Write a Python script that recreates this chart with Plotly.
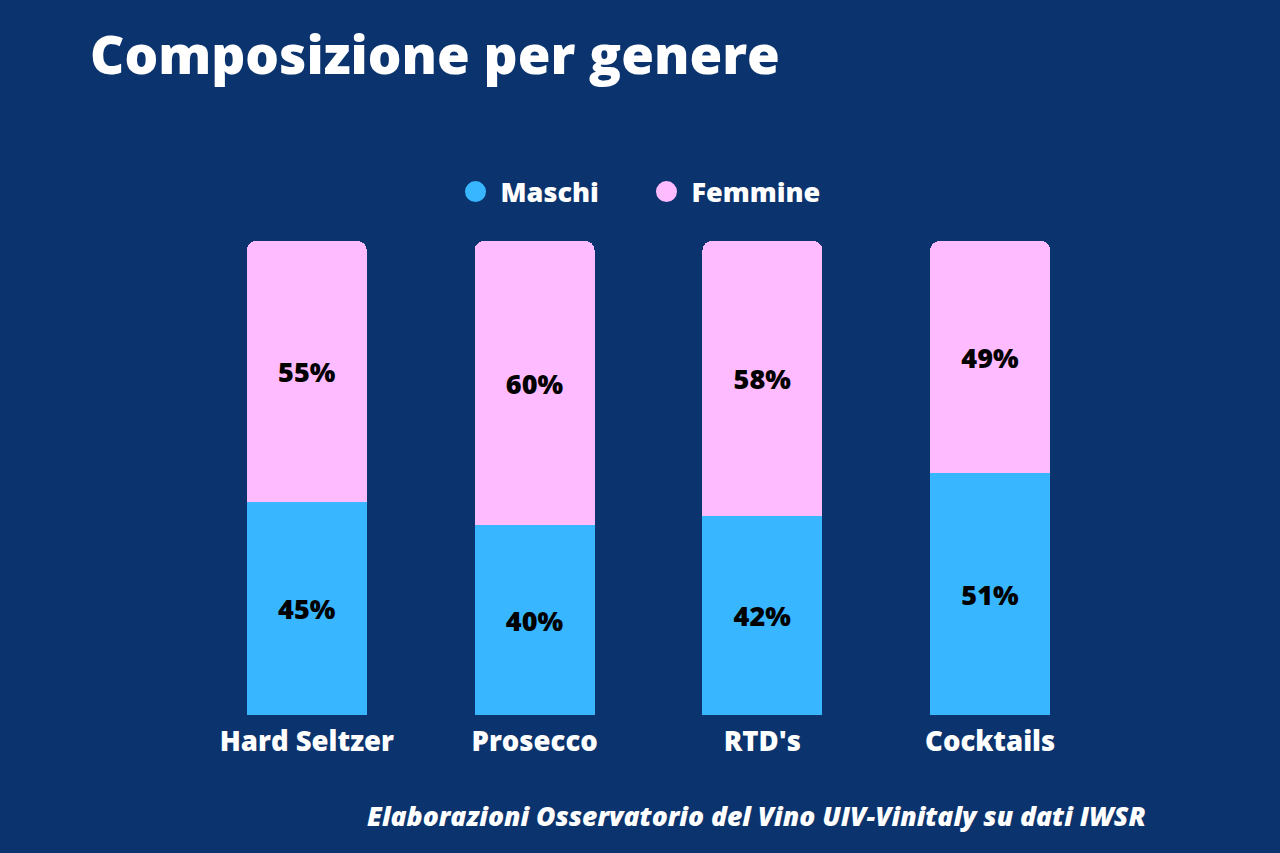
import plotly.graph_objects as go

categories = ["Hard Seltzer", "Prosecco", "RTD's", "Cocktails"]
maschi = [45, 40, 42, 51]
femmine = [55, 60, 58, 49]

BG = "#0B346E"
BLUE = "#38B6FF"
PINK = "#FFBBFF"
FONT = "Open Sans"
W = 800

L, R, T, B = 193, 176, 241, 138
PW, PH = 1280 - L - R, 853 - T - B

fig = go.Figure()
for vals, nm, col in [(maschi, "Maschi", BLUE), (femmine, "Femmine", PINK)]:
    fig.add_trace(go.Bar(
        x=categories, y=vals, name=nm, marker=dict(color=col, line=dict(width=0)),
        texttemplate="%{y}%", textposition="inside", insidetextanchor="middle", textangle=0,
        textfont=dict(family=FONT, size=27, color="black", weight=W), showlegend=False,
        hoverinfo="skip"))
# legend entries with circular markers
for nm, col in [("Maschi", BLUE), ("Femmine", PINK)]:
    fig.add_trace(go.Scatter(x=[None], y=[None], mode="markers", name=nm,
                             marker=dict(symbol="circle", size=26, color=col,
                                         line=dict(width=5, color=col))))

fig.update_layout(
    width=1280, height=853, autosize=False,
    paper_bgcolor=BG, plot_bgcolor=BG,
    barmode="stack", bargap=0.474, barcornerradius=9,
    margin=dict(l=L, r=R, t=T, b=B),
    title=dict(text="Composizione per genere", x=90/1280, xanchor="left", xref="container",
               y=1-55/853, yanchor="middle", yref="container",
               font=dict(family=FONT, size=53, color="white", weight=W)),
    legend=dict(orientation="h", x=0.5 - 7/PW, xanchor="center", xref="paper",
                y=1-192/853, yanchor="middle", yref="container",
                font=dict(family=FONT, size=27, color="white", weight=W),
                itemsizing="trace", bgcolor="rgba(0,0,0,0)", traceorder="normal",
                itemwidth=40, entrywidth=136, entrywidthmode="pixels"),
    xaxis=dict(showgrid=False, zeroline=False, showline=False, ticks="",
               tickfont=dict(family=FONT, size=27.5, color="white", weight=W),
               ticklabelstandoff=7),
    yaxis=dict(range=[0, 100], visible=False, showgrid=False, zeroline=False),
    annotations=[dict(text="Elaborazioni Osservatorio del Vino UIV-Vinitaly su dati IWSR",
                      xref="paper", yref="paper",
                      x=(1148 - L) / PW, y=-(816 - (853 - B)) / PH,
                      xanchor="right", yanchor="middle", showarrow=False,
                      font=dict(family=FONT, size=26.5, color="white", weight=W, style="italic"))],
)

fig.write_html("out.html", config={"displayModeBar": False},
               post_script="document.body.style.margin='0';document.body.style.overflow='hidden';")
